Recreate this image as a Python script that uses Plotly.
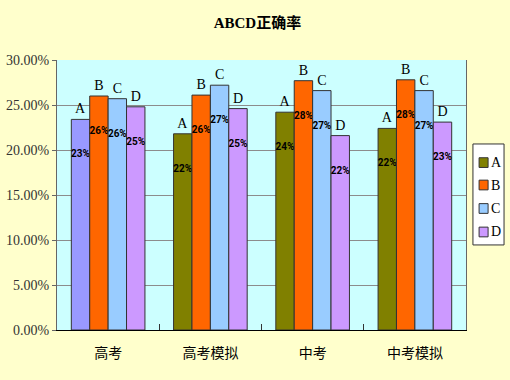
import plotly.graph_objects as go

categories = ["高考", "高考模拟", "中考", "中考模拟"]
series_names = ["A", "B", "C", "D"]
values_A = [0.234, 0.218, 0.242, 0.224]
values_B = [0.260, 0.261, 0.277, 0.278]
values_C = [0.257, 0.272, 0.266, 0.266]
values_D = [0.248, 0.246, 0.216, 0.231]
y_ticks = [0, 0.05, 0.10, 0.15, 0.20, 0.25, 0.30]

colors_A = ["#9999FF", "#808000", "#808000", "#808000"]
color_B = "#FF6600"
color_C = "#99CCFF"
color_D = "#CC99FF"

series = [
    ("A", values_A, colors_A),
    ("B", values_B, color_B),
    ("C", values_C, color_C),
    ("D", values_D, color_D),
]

fig = go.Figure()
for name, vals, col in series:
    fig.add_trace(go.Bar(
        x=categories, y=vals, name=name, offsetgroup=name,
        marker=dict(color=col, line=dict(color="#333333", width=1)),
        texttemplate="\u00a0<br>\u00a0<br>%{y:.0%}", textposition="inside", textangle=0,
        insidetextanchor="end", constraintext="none",
        textfont=dict(family="Roboto", size=10, color="#000000", weight="bold"),
        showlegend=False, hoverinfo="skip",
    ))
    fig.add_trace(go.Bar(
        x=categories, y=vals, name=name, offsetgroup=name,
        marker=dict(color="rgba(0,0,0,0)", line=dict(width=0)),
        text=[name] * len(vals), textposition="outside", textangle=0, cliponaxis=False,
        constraintext="none",
        textfont=dict(family="Liberation Serif", size=14, color="#000000"),
        showlegend=False, hoverinfo="skip",
    ))

# custom legend
x0, x1 = 1.017, 1.093
y0, y1 = 0.315, 0.689
shapes = [dict(type="rect", xref="paper", yref="paper", x0=x0, x1=x1, y0=y0, y1=y1,
               line=dict(color="#333333", width=1), fillcolor="#FFFFFF")]
annotations = []
legend_colors = ["#808000", color_B, color_C, color_D]
ys = [0.62, 0.537, 0.45, 0.363]
for name, col, yy in zip(series_names, legend_colors, ys):
    shapes.append(dict(type="rect", xref="paper", yref="paper",
                       x0=1.032, x1=1.054, y0=yy - 0.018, y1=yy + 0.018,
                       line=dict(color="#333333", width=1), fillcolor=col))
    annotations.append(dict(xref="paper", yref="paper", x=1.056, y=yy, text=name,
                            showarrow=False, xanchor="left", yanchor="middle",
                            font=dict(family="Liberation Serif", size=14, color="#000000")))

fig.update_layout(
    width=510, height=380,
    margin=dict(l=57, r=44, t=60, b=50),
    paper_bgcolor="#FFFFCC", plot_bgcolor="#CCFFFF",
    barmode="group", bargap=0.28, bargroupgap=0,
    title=dict(text="<b>ABCD正确率</b>", x=0.49, xref="paper", y=0.94, yanchor="middle",
               font=dict(family="Liberation Serif, Noto Sans CJK SC", size=15, color="#000000")),
    shapes=shapes, annotations=annotations,
)
fig.update_yaxes(range=[0, 0.30], tickvals=y_ticks, tickformat=".2%",
                 showgrid=True, gridcolor="#8c8c8c", gridwidth=1,
                 showline=True, linecolor="#666666", mirror=True,
                 ticks="outside", ticklen=4, tickcolor="#666666",
                 tickfont=dict(family="Liberation Serif", size=14, color="#333333"),
                 zeroline=False, automargin=False)
fig.update_xaxes(showline=True, linecolor="#000000", linewidth=1,
                 ticks="inside", tickson="boundaries", ticklen=6, tickcolor="#333333",
                 tickfont=dict(family="Noto Sans CJK SC", size=14, color="#000000"),
                 ticklabelstandoff=10, automargin=False)

fig.write_html(
    "out.html",
    config={"displayModeBar": False},
    post_script="document.body.style.margin='0';document.body.style.overflow='hidden';document.body.style.background='#FFFFCC';",
)
